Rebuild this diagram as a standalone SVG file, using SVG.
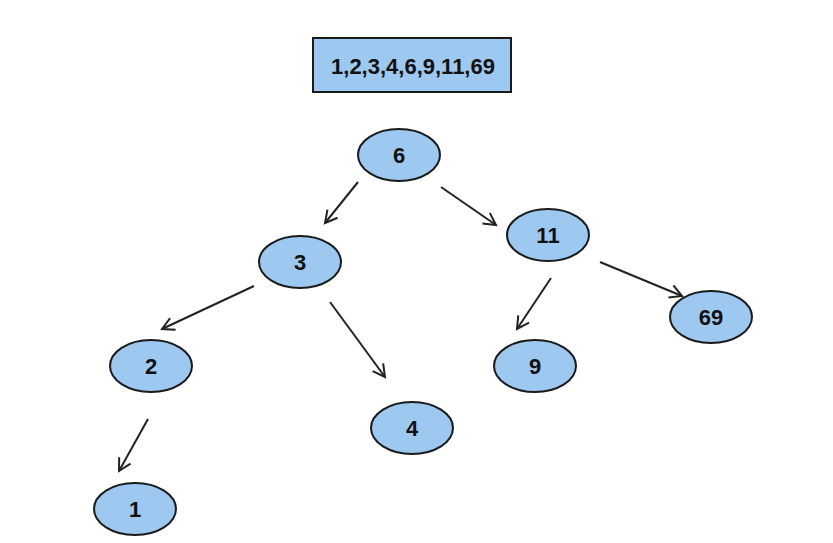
<svg xmlns="http://www.w3.org/2000/svg" width="833" height="543" viewBox="0 0 833 543">
<style>
.n{fill:#9dc8ef;stroke:#1a1a1a;stroke-width:2}
.t{font-family:"Liberation Sans",Arial,sans-serif;font-weight:bold;font-size:22px;fill:#111;text-anchor:middle;dominant-baseline:central}
.c{stroke:#222;stroke-width:2;fill:none;marker-end:url(#a)}
</style>
<defs>
<marker id="a" markerUnits="userSpaceOnUse" markerWidth="16" markerHeight="16" refX="13" refY="7.5" orient="auto" viewBox="0 0 16 15">
<path d="M1,1 L13,7.5 L1,14" fill="none" stroke="#222" stroke-width="2"/>
</marker>
</defs>
<rect width="833" height="543" fill="#fff"/>
<g id="list"><rect class="n" x="313" y="38" width="198" height="54"/><text class="t" x="413" y="66">1,2,3,4,6,9,11,69</text></g>
<g id="n6"><ellipse class="n" cx="399" cy="155" rx="41" ry="26"/><text class="t" x="399" y="155">6</text></g>
<g id="n3"><ellipse class="n" cx="300" cy="262" rx="41" ry="26"/><text class="t" x="300" y="262">3</text></g>
<g id="n11"><ellipse class="n" cx="548" cy="235" rx="41" ry="26"/><text class="t" x="548" y="235">11</text></g>
<g id="n2"><ellipse class="n" cx="151" cy="366" rx="41" ry="26"/><text class="t" x="151" y="366">2</text></g>
<g id="n4"><ellipse class="n" cx="412" cy="428" rx="41" ry="26"/><text class="t" x="412" y="428">4</text></g>
<g id="n9"><ellipse class="n" cx="535" cy="366" rx="41" ry="26"/><text class="t" x="535" y="366">9</text></g>
<g id="n69"><ellipse class="n" cx="711" cy="317" rx="41" ry="26"/><text class="t" x="711" y="317">69</text></g>
<g id="n1"><ellipse class="n" cx="135" cy="509" rx="41" ry="26"/><text class="t" x="135" y="509">1</text></g>
<g id="connectors">
<line class="c" x1="358" y1="182" x2="325" y2="223"/>
<line class="c" x1="441" y1="187" x2="496" y2="225"/>
<line class="c" x1="254" y1="286" x2="162" y2="329"/>
<line class="c" x1="330" y1="302" x2="385" y2="377"/>
<line class="c" x1="551" y1="278" x2="517" y2="329"/>
<line class="c" x1="600" y1="262" x2="682" y2="296"/>
<line class="c" x1="148" y1="419" x2="119" y2="471"/>
</g>
</svg>
